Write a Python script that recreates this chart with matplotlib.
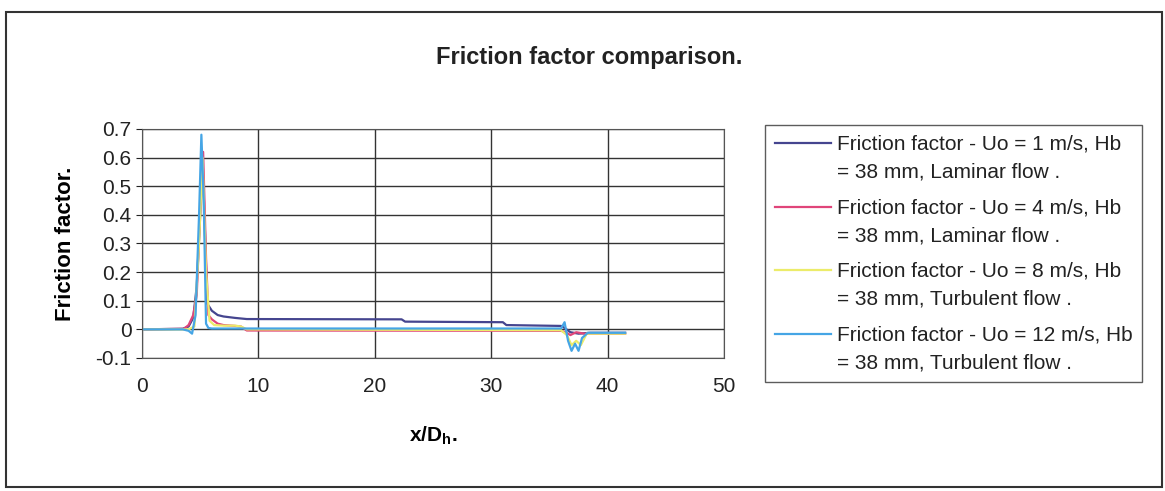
import numpy as np
import matplotlib
matplotlib.use('Agg')
from matplotlib import pyplot as plt
from matplotlib.patches import Rectangle
from matplotlib.legend_handler import HandlerLine2D


# =============================================================================
# Data
# =============================================================================
x_u1 = [0, 3.5, 4.0, 4.4, 4.7, 5.0, 5.2, 5.4, 5.6, 6.0, 6.5, 7.0, 8.0, 9.0,
	22.3, 22.6, 31.0, 31.3, 36.0, 36.3, 36.8, 37.5, 38.5, 41.5]
y_u1 = [0, 0.002, 0.01, 0.04, 0.15, 0.40, 0.60, 0.35, 0.09, 0.065, 0.05, 0.045,
	0.04, 0.036, 0.035, 0.027, 0.025, 0.015, 0.012, 0.005, -0.01, -0.015,
	-0.012, -0.012]

x_u4 = [0, 3.6, 4.0, 4.4, 4.7, 5.0, 5.25, 5.5, 5.7, 6.0, 6.5, 7.0, 8.0, 8.5,
	9.0, 36.0, 36.4, 36.8, 37.3, 38.0, 41.5]
y_u4 = [0, 0.002, 0.015, 0.05, 0.12, 0.42, 0.62, 0.25, 0.05, 0.035, 0.02,
	0.015, 0.012, 0.01, -0.004, -0.005, -0.01, -0.02, -0.01, -0.015, -0.015]

x_u8 = [0, 4.0, 4.5, 4.9, 5.2, 5.5, 5.8, 6.2, 7.0, 8.0, 8.5, 9.0, 36.0, 36.5,
	36.9, 37.3, 37.7, 38.2, 41.5]
y_u8 = [0, 0, 0.01, 0.3, 0.6, 0.2, 0.03, 0.015, 0.013, 0.013, 0.01, 0,
	-0.003, -0.02, -0.055, -0.04, -0.055, -0.015, -0.015]

x_u12 = [0, 3.5, 4.0, 4.3, 4.6, 4.9, 5.1, 5.3, 5.5, 5.7, 6.0, 36.0, 36.3,
	36.6, 36.9, 37.2, 37.5, 37.8, 38.3, 41.5]
y_u12 = [0, 0, -0.005, -0.015, 0.05, 0.4, 0.68, 0.45, 0.02, 0.005, 0.003,
	0.003, 0.025, -0.04, -0.075, -0.05, -0.075, -0.03, -0.012, -0.012]

labels = [
	'Friction factor - Uo = 1 m/s, Hb\n= 38 mm, Laminar flow .',
	'Friction factor - Uo = 4 m/s, Hb\n= 38 mm, Laminar flow .',
	'Friction factor - Uo = 8 m/s, Hb\n= 38 mm, Turbulent flow .',
	'Friction factor - Uo = 12 m/s, Hb\n= 38 mm, Turbulent flow .',
]
colors = ['#45458f', '#e0457a', '#ecec6a', '#45a5e5']

xticks = [0, 10, 20, 30, 40, 50]
yticks = [-0.1, 0, 0.1, 0.2, 0.3, 0.4, 0.5, 0.6, 0.7]
ytick_labels = ['-0.1', '0', '0.1', '0.2', '0.3', '0.4', '0.5', '0.6', '0.7']


# Legend line sits level with the first text line, like Excel does
class TopLine(HandlerLine2D):
	def create_artists(self, legend, orig_handle, xdescent, ydescent, width,
			height, fontsize, trans):
		artists = super().create_artists(legend, orig_handle, xdescent,
			ydescent, width, height, fontsize, trans)
		for a in artists:
			a.set_ydata(np.asarray(a.get_ydata()) + 11)
		return artists


# =============================================================================
# Plot parameters
# =============================================================================
matplotlib.rcParams['font.family'] = ['Liberation Sans', 'DejaVu Sans']
matplotlib.rcParams['text.color'] = '#222222'


# =============================================================================
# Plot
# =============================================================================
fig = plt.figure(figsize=(11.65, 4.91), dpi=100)
ax = fig.add_axes([0.1219, 0.2709, 0.4996, 0.4664])

series = [(x_u1, y_u1), (x_u4, y_u4), (x_u8, y_u8), (x_u12, y_u12)]
lines = []
for (xs, ys), lab, col in zip(series, labels, colors):
	ln, = ax.plot(xs, ys, color=col, linewidth=1.6, label=lab)
	lines.append(ln)

ax.set_xlim(0, 50)
ax.set_ylim(-0.1, 0.7)
ax.set_xticks(xticks)
ax.set_yticks(yticks)
ax.set_yticklabels(ytick_labels)
ax.tick_params(axis='both', labelsize=15, colors='#222222', length=4)
ax.tick_params(axis='x', length=0, pad=14)
ax.grid(True, color='#333333', linewidth=1.0)
ax.set_axisbelow(True)
for sp in ax.spines.values():
	sp.set_color('#555555')

ax.set_xlabel('x/D$_\\mathregular{h}$.', fontsize=15, fontweight='bold',
	labelpad=20)
ax.set_ylabel('Friction factor.', fontsize=16, fontweight='bold', labelpad=14)

fig.text(0.506, 0.882, 'Friction factor comparison.', ha='center',
	va='center', fontsize=17, fontweight='bold')

leg = fig.legend(handles=lines, loc='upper left',
	bbox_to_anchor=(0.657, 0.745), borderaxespad=0,
	handler_map={ln: TopLine() for ln in lines},
	fontsize=15, frameon=True, fancybox=False, handlelength=2.7,
	handletextpad=0.3, labelspacing=0.8, borderpad=0.45)
for t in leg.get_texts():
	t.set_linespacing(1.6)
leg.get_frame().set_edgecolor('#333333')
leg.get_frame().set_linewidth(1.0)

# outer chart border
fig.patches.append(Rectangle((0.005, 0.008), 0.992, 0.967,
	transform=fig.transFigure, fill=False, edgecolor='#333333', linewidth=1.5))

plt.savefig('out.png', dpi=100)
